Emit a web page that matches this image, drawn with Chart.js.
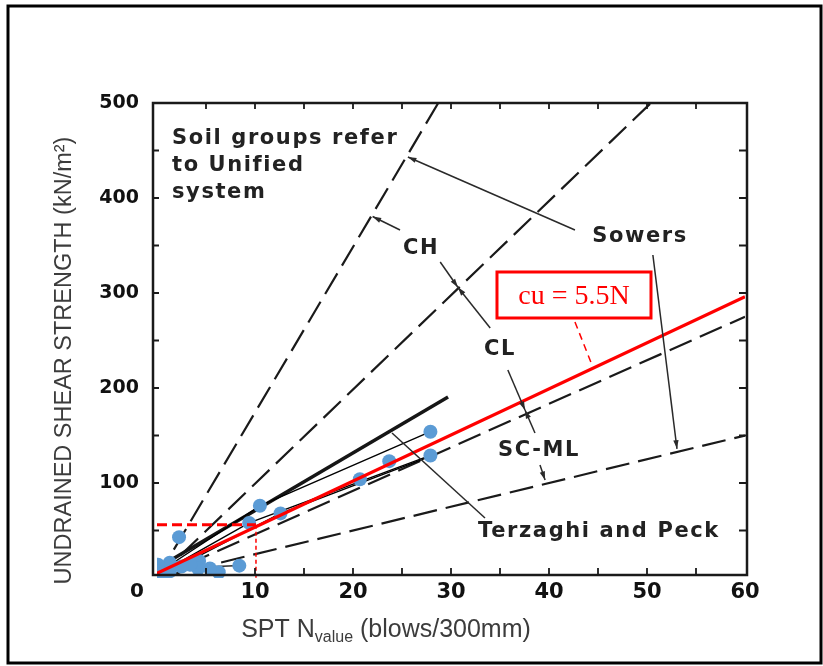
<!DOCTYPE html>
<html>
<head>
<meta charset="utf-8">
<script src="https://cdn.jsdelivr.net/npm/chart.js@4.4.1/dist/chart.umd.min.js"></script>
<style>
  html, body { margin: 0; padding: 0; background: #fff; }
  #wrap { width: 823px; height: 666px; }
</style>
</head>
<body>
<div id="wrap"><canvas id="cuChart" width="823" height="666"></canvas></div>
<script>
// axis ranges / ticks
const xMin = 0, xMax = 60, xStep = 10;
const yMin = 0, yMax = 500, yStep = 100;

// site data: SPT N against undrained shear strength (kN/m2)
const sptN  = [2.25, 10.5, 9.4, 12.6, 20.7, 23.7, 27.9, 27.9, 8.4, 6.3, 5.4, 4.3, 4.2, 3.4, 2.5, 1.3, 1.3, 0.1, 0.0, 0.5];
const cuKpa = [43,   76,   58,  68,   104,  123,  154,  129,  13,  6,   10,  18,  10,  14,  12,  16,  7,   14,  7,   4];

// Sowers lines (dashed), N and cu at both ends
const sowers1N = [0, 28.7], sowers1Cu = [0, 500];
const sowers2N = [0, 50.4], sowers2Cu = [0, 500];
const sowers3N = [0, 60],   sowers3Cu = [0, 275];
const sowers4N = [0, 60],   sowers4Cu = [0, 150];

// Terzaghi and Peck
const terzN = [0.3, 29.7], terzCu = [12, 190.5];

// cu = 5.5N fitted line
const fitN = [0, 60], fitCu = [5, 296];

// thin lines joining the data
const link1N = [1.5, 10.5, 27.9], link1Cu = [15, 76, 154];
const link2N = [1.5, 9.4, 27.9],  link2Cu = [12, 58, 129];
const link3N = [2, 12.6, 27.9],   link3Cu = [11, 68, 128];
const link4N = [5.4, 8.4],        link4Cu = [12, 13];

// N = 10 reading
const readN = [0, 10.1, 10.1], readCu = [56, 56, 0];

function pts(xs, ys) {
    return xs.map((v, i) => ({ x: v, y: ys[i] }));
}

function lineSet(label, xs, ys, extra) {
    return Object.assign({
        label: label,
        data: pts(xs, ys),
        showLine: true,
        pointRadius: 0,
        borderColor: '#1a1a1a',
        borderWidth: 2,
        fill: false
    }, extra);
}

const sowersDash = [24, 9];

const datasets = [
    lineSet('fit', fitN, fitCu, { borderColor: '#ff0000', borderWidth: 3.2, order: 0 }),
    lineSet('readH', readN.slice(0, 2), readCu.slice(0, 2), { borderColor: '#ff0000', borderWidth: 3, borderDash: [10, 5], order: 0 }),
    lineSet('readV', readN.slice(1), readCu.slice(1), { borderColor: '#ff0000', borderWidth: 1.5, borderDash: [4, 3], order: 0 }),
    {
        label: 'data',
        data: pts(sptN, cuKpa),
        pointRadius: 7,
        pointHoverRadius: 7,
        pointBackgroundColor: '#5b9bd5',
        pointBorderWidth: 0,
        order: 1
    },
    lineSet('link1', link1N, link1Cu, { borderWidth: 1.4, borderColor: '#000', order: 2 }),
    lineSet('link2', link2N, link2Cu, { borderWidth: 1.4, borderColor: '#000', order: 2 }),
    lineSet('link3', link3N, link3Cu, { borderWidth: 1.4, borderColor: '#000', order: 2 }),
    lineSet('link4', link4N, link4Cu, { borderWidth: 1.4, borderColor: '#000', order: 2 }),
    lineSet('terzaghi', terzN, terzCu, { borderWidth: 3.5, borderColor: '#161616', order: 3 }),
    lineSet('sowers1', sowers1N, sowers1Cu, { borderDash: sowersDash, borderWidth: 2.2, order: 4 }),
    lineSet('sowers2', sowers2N, sowers2Cu, { borderDash: sowersDash, borderWidth: 2.2, order: 4 }),
    lineSet('sowers3', sowers3N, sowers3Cu, { borderDash: sowersDash, borderWidth: 2.2, order: 4 }),
    lineSet('sowers4', sowers4N, sowers4Cu, { borderDash: sowersDash, borderWidth: 2.2, order: 4 })
];

const labelFont = 'bold 21px "DejaVu Sans"';

// arrowed leader in data units
function leader(ctx, x, y, from, to, arrow) {
    const x1 = x.getPixelForValue(from[0]), y1 = y.getPixelForValue(from[1]);
    const x2 = x.getPixelForValue(to[0]), y2 = y.getPixelForValue(to[1]);
    ctx.beginPath();
    ctx.moveTo(x1, y1);
    ctx.lineTo(x2, y2);
    ctx.stroke();
    if (arrow) {
        const ang = Math.atan2(y2 - y1, x2 - x1);
        ctx.beginPath();
        ctx.moveTo(x2, y2);
        ctx.lineTo(x2 - 9 * Math.cos(ang - 0.3), y2 - 9 * Math.sin(ang - 0.3));
        ctx.lineTo(x2 - 9 * Math.cos(ang + 0.3), y2 - 9 * Math.sin(ang + 0.3));
        ctx.closePath();
        ctx.fill();
    }
}

const extras = {
    id: 'extras',
    beforeDraw(chart) {
        const ctx = chart.ctx;
        ctx.save();
        ctx.fillStyle = '#fff';
        ctx.fillRect(0, 0, chart.width, chart.height);
        ctx.restore();
    },
    afterDatasetsDraw(chart) {
        const { ctx, chartArea: a, scales: { x, y } } = chart;
        ctx.save();

        // plot frame
        ctx.strokeStyle = '#1a1a1a';
        ctx.lineWidth = 2.5;
        const bl = a.left - 4, br = a.right + 2, bt = a.top, bb = a.bottom - 3;
        ctx.strokeRect(bl, bt, br - bl, bb - bt);

        // small ticks on all four sides
        ctx.lineWidth = 1.8;
        ctx.beginPath();
        for (let n = 5; n < xMax; n += 5) {
            const p = x.getPixelForValue(n);
            ctx.moveTo(p, bb); ctx.lineTo(p, bb - 7);
            ctx.moveTo(p, bt); ctx.lineTo(p, bt + 6);
        }
        for (let c = 50; c < yMax; c += 50) {
            const p = y.getPixelForValue(c);
            ctx.moveTo(bl, p); ctx.lineTo(bl + 6, p);
            ctx.moveTo(br, p); ctx.lineTo(br - 8, p);
        }
        ctx.stroke();

        // leaders
        ctx.strokeStyle = '#2a2a2a';
        ctx.fillStyle = '#2a2a2a';
        ctx.lineWidth = 1.5;
        leader(ctx, x, y, [42.65, 366.3], [25.6, 443.2], true);
        leader(ctx, x, y, [24.8, 366.3], [22.0, 380.5], true);
        leader(ctx, x, y, [28.9, 332.6], [30.7, 306], true);
        leader(ctx, x, y, [34.0, 263.2], [30.7, 306], true);
        leader(ctx, x, y, [35.8, 218.9], [37.55, 176.8], true);
        leader(ctx, x, y, [38.57, 152.6], [37.55, 176.8], true);
        leader(ctx, x, y, [39.08, 118.9], [39.6, 103.2], true);
        leader(ctx, x, y, [50.6, 340], [53.06, 136], true);
        leader(ctx, x, y, [33.47, 63.2], [23.98, 152.6], false);

        // labels
        ctx.fillStyle = '#222';
        ctx.font = labelFont;
        ctx.letterSpacing = '1.6px';
        ctx.textBaseline = 'middle';
        ctx.textAlign = 'left';
        const lx = x.getPixelForValue(1.53);
        ctx.fillText('Soil groups refer', lx, y.getPixelForValue(462.1));
        ctx.fillText('to Unified', lx, y.getPixelForValue(433.7));
        ctx.fillText('system', lx, y.getPixelForValue(405.3));
        ctx.textAlign = 'center';
        ctx.fillText('CH', x.getPixelForValue(26.94), y.getPixelForValue(346.3));
        ctx.fillText('CL', x.getPixelForValue(35.0), y.getPixelForValue(240));
        ctx.fillText('SC-ML', x.getPixelForValue(38.98), y.getPixelForValue(133.7));
        ctx.fillText('Sowers', x.getPixelForValue(49.29), y.getPixelForValue(359));
        ctx.fillText('Terzaghi and Peck', x.getPixelForValue(45.1), y.getPixelForValue(48.4));
        ctx.letterSpacing = '0px';

        // red callout
        const cx = x.getPixelForValue(42.55), cy = y.getPixelForValue(297.9);
        ctx.fillStyle = '#fff';
        ctx.fillRect(cx - 77, cy - 23, 154, 46);
        ctx.strokeStyle = '#ff0000';
        ctx.lineWidth = 3;
        ctx.strokeRect(cx - 77, cy - 23, 154, 46);
        ctx.fillStyle = '#ff0000';
        ctx.font = '28px "Liberation Serif"';
        ctx.fillText('cu = 5.5N', cx, cy + 2);
        ctx.lineWidth = 1.5;
        ctx.setLineDash([7, 5]);
        ctx.beginPath();
        ctx.moveTo(x.getPixelForValue(42.65), y.getPixelForValue(269.5));
        ctx.lineTo(x.getPixelForValue(44.39), y.getPixelForValue(224.2));
        ctx.stroke();
        ctx.setLineDash([]);

        // shared origin label
        ctx.fillStyle = '#111';
        ctx.font = 'bold 20px "DejaVu Sans"';
        ctx.fillText('0', a.left - 20, a.bottom + 14);

        // y axis title
        ctx.fillStyle = '#3c3c3c';
        ctx.font = '23.5px "Liberation Sans"';
        ctx.save();
        ctx.translate(65, (a.top + a.bottom) / 2 + 20);
        ctx.rotate(-Math.PI / 2);
        ctx.fillText('UNDRAINED SHEAR STRENGTH (kN/m\u00B2)', 0, 0);
        ctx.restore();

        // x axis title with subscript
        const partA = 'SPT N', partB = 'value', partC = ' (blows/300mm)';
        const bigF = '25px "Liberation Sans"', smallF = '16px "Liberation Sans"';
        ctx.font = bigF;
        const wA = ctx.measureText(partA).width, wC = ctx.measureText(partC).width;
        ctx.font = smallF;
        const wB = ctx.measureText(partB).width;
        let tx = 386 - (wA + wB + wC) / 2;
        const ty = a.bottom + 59;
        ctx.textAlign = 'left';
        ctx.textBaseline = 'alphabetic';
        ctx.font = bigF;
        ctx.fillText(partA, tx, ty); tx += wA;
        ctx.font = smallF;
        ctx.fillText(partB, tx, ty + 5); tx += wB;
        ctx.font = bigF;
        ctx.fillText(partC, tx, ty);

        // outer picture frame
        ctx.strokeStyle = '#000';
        ctx.lineWidth = 3;
        ctx.strokeRect(8, 6, 813, 657);
        ctx.restore();
    }
};

new Chart(document.getElementById('cuChart'), {
    type: 'scatter',
    data: { datasets: datasets },
    options: {
        responsive: false,
        animation: false,
        events: [],
        layout: { padding: { left: 0, top: 103, right: 78, bottom: 0 } },
        plugins: { legend: { display: false }, tooltip: { enabled: false } },
        scales: {
            x: {
                type: 'linear', min: xMin, max: xMax,
                grid: { display: false },
                border: { display: false },
                ticks: {
                    stepSize: xStep, padding: -6, color: '#111',
                    font: { family: 'DejaVu Sans', weight: 'bold', size: 21 },
                    callback: v => v === 0 ? '' : v
                },
                afterFit: s => { s.height = 88; }
            },
            y: {
                type: 'linear', min: yMin, max: yMax,
                grid: { display: false },
                border: { display: false },
                ticks: {
                    stepSize: yStep, padding: 10, color: '#111',
                    font: { family: 'DejaVu Sans', weight: 'bold', size: 19 },
                    callback: v => v === 0 ? '' : v
                },
                afterFit: s => { s.width = 157; }
            }
        }
    },
    plugins: [extras]
});
</script>
</body>
</html>
